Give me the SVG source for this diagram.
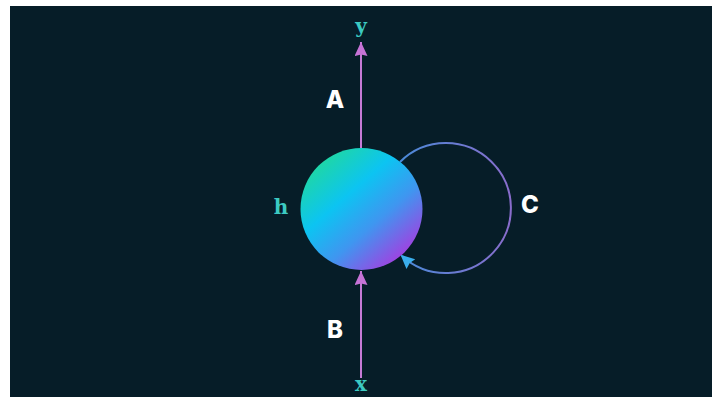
<svg xmlns="http://www.w3.org/2000/svg" width="718" height="402" viewBox="0 0 718 402">
  <defs>
    <linearGradient id="ballGrad" x1="0.15" y1="0.1" x2="0.85" y2="0.9">
      <stop offset="0" stop-color="#1fd8a2"/>
      <stop offset="0.35" stop-color="#0cc4f2"/>
      <stop offset="0.65" stop-color="#3f96f0"/>
      <stop offset="1" stop-color="#a43ee0"/>
    </linearGradient>
    <linearGradient id="loopGrad" gradientUnits="userSpaceOnUse" x1="400" y1="209" x2="512" y2="209">
      <stop offset="0" stop-color="#4a8ad8"/>
      <stop offset="1" stop-color="#8a6ccc"/>
    </linearGradient>
    <marker id="arrPink" markerUnits="userSpaceOnUse" markerWidth="16" markerHeight="14" refX="14" refY="6.5" orient="auto">
      <path d="M0,0 L14,6.5 L0,13 L1.5,6.5 z" fill="#c673d6"/>
    </marker>
    <marker id="arrBlue" markerUnits="userSpaceOnUse" markerWidth="16" markerHeight="14" refX="12" refY="6.5" orient="auto">
      <path d="M0,0 L14,6.5 L0,13 L1.5,6.5 z" fill="#3aaeec"/>
    </marker>
  </defs>
  <style>
    .lbl { font-family: "Inter", "Liberation Sans", sans-serif; font-weight: 800; font-size: 24px; fill: #ffffff; text-anchor: middle; }
    .var { font-family: "DejaVu Serif", "Liberation Serif", serif; font-weight: 700; font-size: 20px; fill: #3ccac2; text-anchor: middle; }
    .edge { stroke: #c67ad6; stroke-width: 2; fill: none; }
  </style>
  <rect x="0" y="0" width="718" height="402" fill="#ffffff"/>
  <rect x="10" y="6" width="702" height="391" fill="#061d28"/>

  <g id="connectors">
    <path id="edge-A" class="edge" d="M361,148 L361,42" marker-end="url(#arrPink)"/>
    <path id="edge-B" class="edge" d="M361,378 L361,271" marker-end="url(#arrPink)"/>
    <path id="edge-C" d="M400,162 A65,65 0 1 1 402,256" fill="none" stroke="url(#loopGrad)" stroke-width="2" marker-end="url(#arrBlue)"/>
  </g>

  <g id="node-h">
    <circle cx="361.5" cy="209" r="61" fill="url(#ballGrad)"/>
    <text class="var" x="281" y="214">h</text>
  </g>
  <g id="node-y">
    <text class="var" x="361" y="33">y</text>
  </g>
  <g id="node-x">
    <text class="var" x="361" y="391">x</text>
  </g>
  <g id="labels">
    <text class="lbl" x="335" y="108">A</text>
    <text class="lbl" x="335" y="338">B</text>
    <text class="lbl" x="530" y="213">C</text>
  </g>
</svg>
